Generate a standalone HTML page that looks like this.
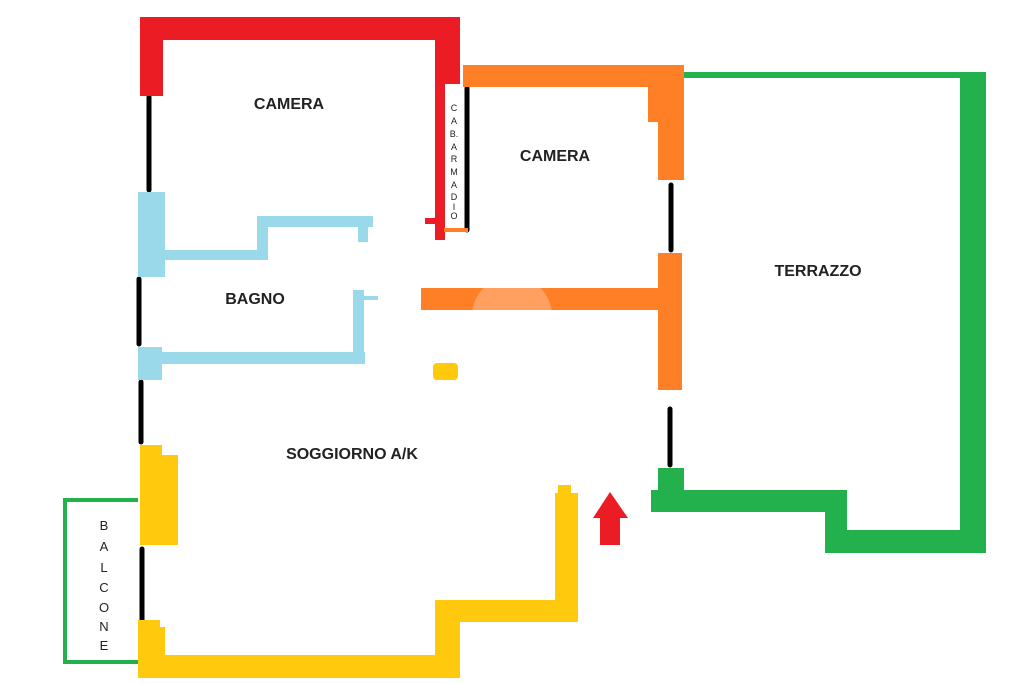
<!DOCTYPE html>
<html><head><meta charset="utf-8"><style>
html,body{margin:0;padding:0;background:#fff;}
svg{display:block;}
text{font-family:"Liberation Sans",sans-serif;fill:#222;}
</style></head><body>
<svg width="1024" height="683" viewBox="0 0 1024 683" xmlns="http://www.w3.org/2000/svg">
<defs><clipPath id="bar"><rect x="421" y="288" width="240" height="22"/></clipPath></defs>
<rect width="1024" height="683" fill="#fff"/>
<!-- black windows -->
<g stroke="#000" stroke-width="5" stroke-linecap="round">
<line x1="149" y1="97" x2="149" y2="190"/>
<line x1="139" y1="279" x2="139" y2="344"/>
<line x1="141" y1="382" x2="141" y2="442"/>
<line x1="142" y1="549" x2="142" y2="620"/>
<line x1="467" y1="88" x2="467" y2="230"/>
<line x1="671" y1="185" x2="671" y2="250"/>
<line x1="670" y1="409" x2="670" y2="465"/>
</g>
<!-- red -->
<g fill="#ec1c24">
<rect x="140" y="17" width="320" height="23"/>
<rect x="140" y="17" width="23" height="79"/>
<rect x="435" y="17" width="25" height="67"/>
<rect x="435" y="17" width="10" height="223"/>
<rect x="425" y="218" width="12" height="6"/>
<polygon points="593,518 610,492 628,518 620,518 620,545 600,545 600,518"/>
</g>
<!-- orange -->
<g fill="#ff7f27">
<rect x="463" y="65" width="221" height="22"/>
<rect x="648" y="65" width="36" height="57"/>
<rect x="658" y="65" width="26" height="115"/>
<rect x="658" y="253" width="24" height="137"/>
<rect x="421" y="288" width="240" height="22"/>
<rect x="444" y="228" width="24" height="4"/>
</g>
<circle cx="512" cy="316" r="40" fill="#ffa060" clip-path="url(#bar)"/>
<!-- green -->
<g fill="#22b14c">
<rect x="684" y="72" width="302" height="6"/>
<rect x="960" y="72" width="26" height="481"/>
<rect x="825" y="530" width="161" height="23"/>
<rect x="825" y="490" width="22" height="63"/>
<rect x="651" y="490" width="196" height="22"/>
<rect x="658" y="468" width="26" height="44"/>
</g>
<path d="M138,500 L65,500 L65,662 L138,662" fill="none" stroke="#22b14c" stroke-width="4"/>
<!-- yellow -->
<g fill="#ffc90e">
<rect x="138" y="655" width="322" height="23"/>
<rect x="435" y="600" width="25" height="78"/>
<rect x="435" y="600" width="143" height="22"/>
<rect x="555" y="493" width="23" height="129"/>
<rect x="558" y="485" width="13" height="10"/>
<rect x="138" y="627" width="27" height="51"/>
<rect x="138" y="620" width="22" height="10"/>
<rect x="140" y="455" width="38" height="90"/>
<rect x="140" y="445" width="22" height="12"/>
<rect x="433" y="363" width="25" height="17" rx="4"/>
</g>
<!-- blue -->
<g fill="#99d9ea">
<rect x="138" y="192" width="27" height="85"/>
<rect x="165" y="250" width="103" height="10"/>
<rect x="257" y="216" width="11" height="44"/>
<rect x="257" y="216" width="116" height="11"/>
<rect x="358" y="227" width="10" height="15"/>
<rect x="138" y="347" width="24" height="33"/>
<rect x="162" y="352" width="203" height="12"/>
<rect x="353" y="290" width="11" height="74"/>
<rect x="364" y="296" width="14" height="4"/>
</g>
<!-- labels -->
<g font-size="16" text-anchor="middle" style="font-weight:600;fill:#1a1a1a">
<text x="289" y="109">CAMERA</text>
<text x="555" y="161">CAMERA</text>
<text x="255" y="304">BAGNO</text>
<text x="352" y="459">SOGGIORNO A/K</text>
<text x="818" y="276">TERRAZZO</text>
</g>
<g font-size="9" text-anchor="middle">
<text x="454" y="111">C</text><text x="454" y="124">A</text><text x="454" y="137">B.</text>
<text x="454" y="150">A</text><text x="454" y="162">R</text><text x="454" y="175">M</text>
<text x="454" y="188">A</text><text x="454" y="200">D</text><text x="454" y="210">I</text>
<text x="454" y="219">O</text>
</g>
<g font-size="13" text-anchor="middle">
<text x="104" y="530">B</text><text x="104" y="551">A</text><text x="104" y="572">L</text>
<text x="104" y="592">C</text><text x="104" y="612">O</text><text x="104" y="631">N</text>
<text x="104" y="650">E</text>
</g>
</svg>
</body></html>
